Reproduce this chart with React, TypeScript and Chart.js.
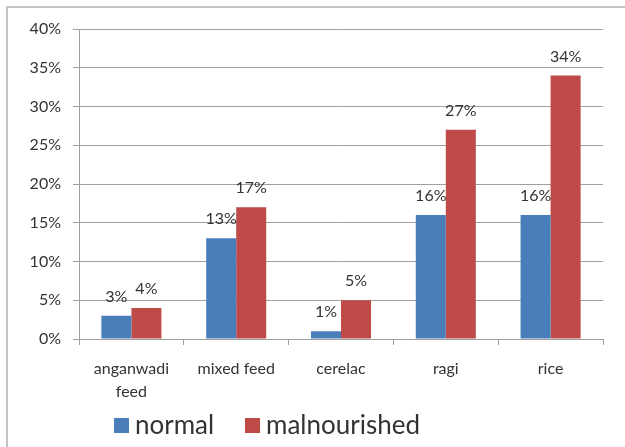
import React, { useEffect, useRef } from "react";
import { Chart, registerables } from "chart.js";

Chart.register(...registerables);

const categories: (string | string[])[] = [["anganwadi", "feed"], "mixed feed", "cerelac", "ragi", "rice"];
const normalValues = [3, 13, 1, 16, 16];
const malnourishedValues = [4, 17, 5, 27, 34];
const seriesNames = ["normal", "malnourished"];
const seriesColors = ["#4A7EBB", "#BE4B48"];
const yMin = 0;
const yMax = 40;
const yStep = 5;

const FONT = "Lato, 'Open Sans', sans-serif";
const TEXT = "#333333";
const GRID = "#a0a0a0";

const dataLabelPlugin = {
  id: "dataLabels",
  afterDatasetsDraw(chart: any) {
    const ctx = chart.ctx;
    ctx.save();
    ctx.font = `16px ${FONT}`;
    ctx.fillStyle = TEXT;
    ctx.textAlign = "center";
    ctx.textBaseline = "middle";
    chart.data.datasets.forEach((ds: any, di: number) => {
      const meta = chart.getDatasetMeta(di);
      meta.data.forEach((bar: any, i: number) => {
        ctx.fillText(`${ds.data[i]}%`, bar.x, bar.y - 19);
      });
    });
    ctx.restore();
  },
};

const legendPlugin = {
  id: "customLegend",
  afterDraw(chart: any) {
    const ctx = chart.ctx;
    ctx.save();
    ctx.font = `26px ${FONT}`;
    ctx.textBaseline = "middle";
    ctx.textAlign = "left";
    const positions = [114, 245];
    const cy = 426;
    chart.data.datasets.forEach((ds: any, i: number) => {
      const x = positions[i];
      ctx.fillStyle = ds.backgroundColor;
      ctx.fillRect(x, cy - 8, 15, 15);
      ctx.fillStyle = TEXT;
      ctx.fillText(ds.label, x + 21, cy);
    });
    ctx.restore();
  },
};

export default function App() {
  const ref = useRef<HTMLCanvasElement | null>(null);
  useEffect(() => {
    if (!ref.current) return;
    const chart = new Chart(ref.current, {
      type: "bar",
      data: {
        labels: categories as any,
        datasets: [
          { label: seriesNames[0], data: normalValues, backgroundColor: seriesColors[0], borderWidth: 0 },
          { label: seriesNames[1], data: malnourishedValues, backgroundColor: seriesColors[1], borderWidth: 0 },
        ],
      },
      options: {
        animation: false,
        responsive: false,
        devicePixelRatio: 1,
        layout: { padding: { left: 0, right: 22, top: 29, bottom: 40 } },
        plugins: { legend: { display: false }, tooltip: { enabled: false } },
        datasets: { bar: { categoryPercentage: 0.573, barPercentage: 1 } },
        scales: {
          x: {
            grid: { drawOnChartArea: false, drawTicks: true, tickLength: 6, color: GRID, offset: true },
            border: { color: GRID, width: 1 },
            ticks: {
              color: TEXT,
              font: { family: FONT, size: 16, lineHeight: 1.45 },
              padding: 12,
              maxRotation: 0,
              autoSkip: false,
            },
            afterFit(scale: any) {
              scale.height = 68;
            },
          },
          y: {
            min: yMin,
            max: yMax,
            grid: { color: GRID, tickLength: 6, lineWidth: 1 },
            border: { color: GRID, width: 1 },
            ticks: {
              stepSize: yStep,
              color: TEXT,
              font: { family: FONT, size: 16 },
              padding: 12,
              callback: (v: any) => `${v}%`,
            },
            afterFit(scale: any) {
              scale.width = 79;
            },
          },
        },
      },
      plugins: [dataLabelPlugin, legendPlugin],
    });
    return () => chart.destroy();
  }, []);

  return (
    <div style={{ position: "fixed", left: 0, top: 0, width: 625, height: 447, overflow: "hidden", background: "#fff" }}>
      <div
        style={{
          position: "absolute",
          left: 6,
          top: 6,
          width: 700,
          height: 500,
          borderLeft: "2px solid #c4c4c4",
          borderTop: "2px solid #c4c4c4",
        }}
      />
      <canvas ref={ref} width={625} height={447} style={{ position: "absolute", left: 0, top: 0 }} />
    </div>
  );
}
